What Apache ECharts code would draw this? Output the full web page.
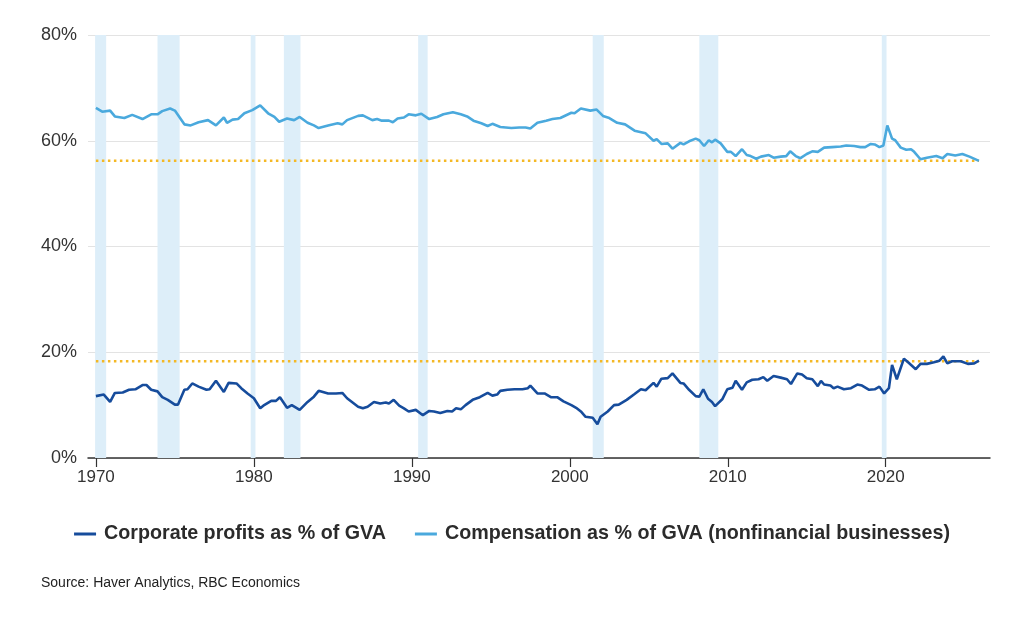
<!DOCTYPE html>
<html style="height: 100%">
<head>
    <meta charset="utf-8">
    <title>Profits and compensation as % of GVA</title>
    <script type="text/javascript" src="https://cdn.jsdelivr.net/npm/echarts@6/dist/echarts.min.js"></script>
    <script type="application/javascript">
        // values: [year, % of GVA]
        var compensation = [
            [1970.0, 66.2], [1970.4, 65.5], [1970.9, 65.7], [1971.2, 64.6], [1971.8, 64.3], [1972.3, 64.9],
            [1972.95, 64.1], [1973.5, 65.0], [1973.9, 65.0], [1974.2, 65.6], [1974.7, 66.1], [1975.0, 65.7],
            [1975.6, 63.1], [1976.0, 62.9], [1976.5, 63.5], [1977.1, 63.9], [1977.6, 62.9], [1978.1, 64.4],
            [1978.3, 63.4], [1978.65, 64.0], [1979.0, 64.1], [1979.4, 65.2], [1979.9, 65.8], [1980.4, 66.7],
            [1980.9, 65.2], [1981.3, 64.5], [1981.6, 63.6], [1982.1, 64.2], [1982.55, 63.9], [1982.9, 64.5],
            [1983.4, 63.4], [1983.8, 62.9], [1984.1, 62.4], [1984.7, 62.9], [1985.3, 63.3], [1985.6, 63.1],
            [1985.9, 63.9], [1986.6, 64.7], [1986.9, 64.8], [1987.5, 63.9], [1987.8, 64.1], [1988.1, 63.8],
            [1988.55, 63.8], [1988.8, 63.5], [1989.1, 64.2], [1989.5, 64.4], [1989.8, 65.0], [1990.25, 64.8],
            [1990.6, 65.1], [1991.1, 64.1], [1991.6, 64.5], [1992.0, 65.0], [1992.6, 65.4], [1993.1, 65.0],
            [1993.5, 64.6], [1993.9, 63.8], [1994.4, 63.3], [1994.8, 62.8], [1995.1, 63.2], [1995.6, 62.6],
            [1996.3, 62.4], [1996.8, 62.5], [1997.2, 62.5], [1997.5, 62.3], [1997.95, 63.4], [1998.5, 63.8],
            [1998.9, 64.1], [1999.4, 64.3], [2000.1, 65.3], [2000.3, 65.2], [2000.7, 66.1], [2001.3, 65.7],
            [2001.7, 65.9], [2002.1, 64.7], [2002.5, 64.3], [2003.0, 63.4], [2003.5, 63.1], [2004.1, 61.9],
            [2004.8, 61.4], [2005.3, 60.0], [2005.5, 60.3], [2005.8, 59.4], [2006.2, 59.5], [2006.5, 58.5],
            [2007.0, 59.6], [2007.2, 59.3], [2007.55, 59.9], [2007.97, 60.4], [2008.2, 60.1], [2008.5, 59.0],
            [2008.8, 60.1], [2009.0, 59.7], [2009.2, 60.2], [2009.55, 59.5], [2009.97, 57.9], [2010.2, 57.9],
            [2010.5, 57.1], [2010.9, 58.4], [2011.2, 57.3], [2011.45, 57.1], [2011.8, 56.6], [2012.1, 57.0],
            [2012.6, 57.3], [2012.9, 56.8], [2013.35, 57.0], [2013.7, 57.1], [2013.95, 58.0], [2014.3, 57.1],
            [2014.6, 56.7], [2015.0, 57.5], [2015.35, 58.0], [2015.7, 57.9], [2016.1, 58.7], [2016.6, 58.8],
            [2017.15, 58.9], [2017.5, 59.1], [2018.0, 59.0], [2018.4, 58.8], [2018.7, 58.8], [2019.05, 59.4],
            [2019.3, 59.3], [2019.6, 58.8], [2019.85, 59.1], [2020.1, 62.9], [2020.4, 60.4], [2020.6, 60.1],
            [2020.95, 58.7], [2021.3, 58.3], [2021.6, 58.4], [2021.8, 57.9], [2022.2, 56.5], [2022.6, 56.8],
            [2023.2, 57.1], [2023.6, 56.7], [2023.9, 57.5], [2024.4, 57.2], [2024.85, 57.5], [2025.3, 57.0],
            [2025.9, 56.2]
        ];

        var profits = [
            [1970.0, 11.7], [1970.5, 12.0], [1970.9, 10.6], [1971.2, 12.3], [1971.7, 12.4], [1972.1, 12.9],
            [1972.5, 13.0], [1972.95, 13.8], [1973.2, 13.8], [1973.5, 12.9], [1973.9, 12.6], [1974.2, 11.5],
            [1974.55, 11.0], [1975.0, 10.1], [1975.2, 10.1], [1975.6, 12.9], [1975.8, 13.0], [1976.1, 14.1],
            [1976.5, 13.5], [1977.0, 12.9], [1977.2, 13.0], [1977.6, 14.6], [1978.1, 12.5], [1978.4, 14.2],
            [1978.9, 14.1], [1979.2, 13.2], [1979.6, 12.2], [1980.0, 11.3], [1980.4, 9.4], [1980.6, 9.9],
            [1981.1, 10.8], [1981.4, 10.8], [1981.65, 11.5], [1982.1, 9.5], [1982.4, 10.0], [1982.9, 9.1],
            [1983.4, 10.6], [1983.8, 11.6], [1984.1, 12.7], [1984.7, 12.2], [1985.2, 12.2], [1985.6, 12.3],
            [1985.9, 11.3], [1986.6, 9.7], [1986.9, 9.4], [1987.2, 9.7], [1987.6, 10.6], [1988.0, 10.3],
            [1988.35, 10.5], [1988.55, 10.3], [1988.85, 11.0], [1989.2, 9.9], [1989.5, 9.4], [1989.8, 8.8],
            [1990.25, 9.1], [1990.7, 8.1], [1991.1, 8.9], [1991.4, 8.8], [1991.8, 8.5], [1992.25, 8.9],
            [1992.55, 8.8], [1992.8, 9.4], [1993.1, 9.2], [1993.4, 10.0], [1993.85, 11.0], [1994.3, 11.5],
            [1994.8, 12.3], [1995.1, 11.8], [1995.4, 12.0], [1995.6, 12.7], [1996.05, 12.9], [1996.5, 13.0],
            [1997.0, 13.0], [1997.35, 13.2], [1997.5, 13.7], [1997.95, 12.2], [1998.4, 12.2], [1998.8, 11.5],
            [1999.2, 11.5], [1999.6, 10.7], [2000.1, 10.0], [2000.4, 9.5], [2000.7, 8.8], [2001.0, 7.8],
            [2001.45, 7.6], [2001.75, 6.4], [2001.95, 7.8], [2002.4, 8.8], [2002.8, 10.0], [2003.1, 10.1],
            [2003.6, 11.0], [2004.1, 12.1], [2004.5, 13.0], [2004.8, 12.8], [2005.3, 14.2], [2005.5, 13.5],
            [2005.8, 15.0], [2006.2, 15.1], [2006.5, 16.0], [2007.0, 14.2], [2007.2, 14.1], [2007.55, 12.9],
            [2007.97, 11.7], [2008.2, 11.6], [2008.45, 13.0], [2008.75, 11.2], [2009.0, 10.6], [2009.2, 9.8],
            [2009.65, 11.1], [2009.97, 13.0], [2010.3, 13.3], [2010.5, 14.6], [2010.9, 12.9], [2011.2, 14.3],
            [2011.55, 14.8], [2011.95, 14.9], [2012.25, 15.3], [2012.5, 14.6], [2012.9, 15.5], [2013.35, 15.2],
            [2013.75, 14.9], [2014.0, 14.0], [2014.4, 16.0], [2014.7, 15.8], [2015.0, 15.1], [2015.35, 14.9],
            [2015.7, 13.6], [2015.9, 14.6], [2016.1, 13.9], [2016.5, 13.7], [2016.7, 13.2], [2016.95, 13.5],
            [2017.35, 13.0], [2017.8, 13.2], [2018.2, 13.9], [2018.5, 13.7], [2018.95, 12.9], [2019.3, 13.0],
            [2019.6, 13.5], [2019.9, 12.2], [2020.2, 13.2], [2020.4, 17.6], [2020.7, 14.9], [2021.15, 18.8],
            [2021.45, 18.0], [2021.9, 16.8], [2022.2, 17.8], [2022.6, 17.8], [2023.05, 18.1], [2023.4, 18.4],
            [2023.65, 19.2], [2023.9, 17.9], [2024.2, 18.3], [2024.75, 18.3], [2025.2, 17.8], [2025.6, 17.9],
            [2025.9, 18.4]
        ];

        // long-run averages (dotted lines)
        var compAverage = 56.2;
        var profitAverage = 18.3;

        // recessions, shaded
        var recessions = [
            [1969.95, 1970.65], [1973.9, 1975.3], [1979.8, 1980.1], [1981.9, 1982.95],
            [1990.4, 1991.0], [2001.45, 2002.15], [2008.2, 2009.4], [2019.75, 2020.05]
        ];

        var yearTicks = [1970, 1980, 1990, 2000, 2010, 2020];

        var profitsName = 'Corporate profits as % of GVA';
        var compName = 'Compensation as % of GVA (nonfinancial businesses)';
    </script>
</head>

<body style="width: 100%;margin: 0;height: 100%;background: #ffffff">

<div id="container" style="width: 1024px;height: 627px"></div>

<script type="application/javascript">

    var dom = document.getElementById("container");
    var myChart = echarts.init(dom);

    var firstYear = profits[0][0];
    var lastYear = profits[profits.length - 1][0];

    var bands = [];
    for (var i = 0; i < recessions.length; i++) {
        bands.push([{xAxis: recessions[i][0]}, {xAxis: recessions[i][1]}]);
    }

    var fontName = '"Liberation Sans", Arial, sans-serif';

    option = {
        animation: false,
        backgroundColor: '#ffffff',
        title: {
            text: 'Source: Haver Analytics, RBC Economics',
            left: 36,
            top: 571,
            textStyle: {
                fontFamily: fontName,
                fontSize: 14,
                fontWeight: 'normal',
                color: '#222222'
            }
        },
        legend: {
            data: [profitsName, compName],
            top: 519,
            left: 'center',
            icon: 'rect',
            itemWidth: 22,
            itemHeight: 3,
            itemGap: 29,
            textStyle: {
                fontFamily: fontName,
                fontSize: 19.7,
                fontWeight: 'bold',
                color: '#2b2b2b',
                padding: [0, 0, 0, 3]
            }
        },
        grid: {
            left: 88,
            right: 34,
            top: 35,
            bottom: 169
        },
        xAxis: {
            type: 'value',
            min: 1969.5,
            max: 2026.6,
            splitLine: {show: false},
            axisLine: {lineStyle: {color: '#333333', width: 1.5}},
            axisTick: {
                show: true,
                customValues: yearTicks,
                length: 9,
                lineStyle: {color: '#333333', width: 1.2}
            },
            axisLabel: {
                customValues: yearTicks,
                formatter: function (v) {
                    return String(v);
                },
                margin: 11,
                fontFamily: fontName,
                fontSize: 17,
                color: '#333333'
            }
        },
        yAxis: {
            type: 'value',
            min: 0,
            max: 80,
            interval: 20,
            axisLine: {show: false},
            axisTick: {show: false},
            splitLine: {lineStyle: {color: '#e3e3e3', width: 1}},
            axisLabel: {
                formatter: '{value}%',
                margin: 11,
                fontFamily: fontName,
                fontSize: 18,
                color: '#333333'
            }
        },
        series: [
            {
                name: 'recessions',
                type: 'line',
                data: [],
                z: 1,
                markArea: {
                    silent: true,
                    itemStyle: {color: '#ddeef9'},
                    data: bands
                }
            },
            {
                name: 'comp average',
                type: 'line',
                z: 2,
                symbol: 'none',
                data: [[firstYear, compAverage], [lastYear, compAverage]],
                lineStyle: {color: '#f4b825', width: 2.5, type: [2.5, 3.5]}
            },
            {
                name: 'profit average',
                type: 'line',
                z: 2,
                symbol: 'none',
                data: [[firstYear, profitAverage], [lastYear, profitAverage]],
                lineStyle: {color: '#f4b825', width: 2.5, type: [2.5, 3.5]}
            },
            {
                name: compName,
                type: 'line',
                z: 3,
                symbol: 'none',
                data: compensation,
                itemStyle: {color: '#4aa9dd'},
                lineStyle: {color: '#4aa9dd', width: 2.6}
            },
            {
                name: profitsName,
                type: 'line',
                z: 4,
                symbol: 'none',
                data: profits,
                itemStyle: {color: '#164c9c'},
                lineStyle: {color: '#164c9c', width: 2.6}
            }
        ]
    };

    if (option && typeof option === "object") {
        myChart.setOption(option, true);
    }
</script>

</body>
</html>
